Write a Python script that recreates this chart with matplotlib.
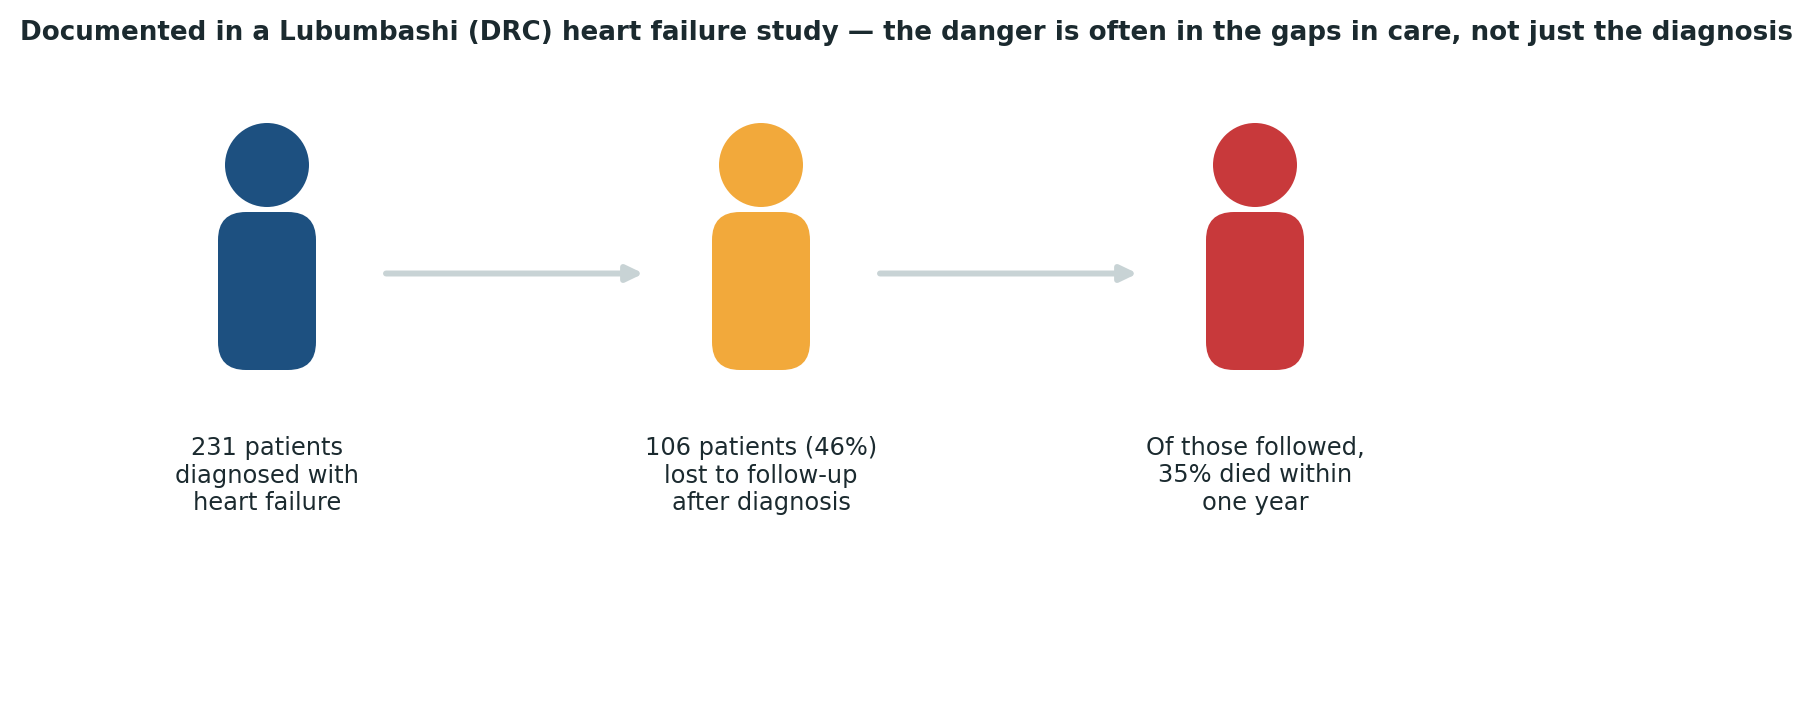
import matplotlib
matplotlib.use("Agg")
import matplotlib.pyplot as plt
from matplotlib.patches import Circle, FancyBboxPatch

TITLE = "Documented in a Lubumbashi (DRC) heart failure study — the danger is often in the gaps in care, not just the diagnosis"
stages = ["231 patients\ndiagnosed with\nheart failure",
          "106 patients (46%)\nlost to follow-up\nafter diagnosis",
          "Of those followed,\n35% died within\none year"]
colors = ["#1D5080", "#F2A93B", "#C8393B"]
INK = "#1B2A2F"
ARROW = "#C8D3D5"

DPI = 130
fig = plt.figure(figsize=(1813 / DPI, 705 / DPI), dpi=DPI)
ax = fig.add_axes([0, 0, 1, 1])
ax.set_xlim(0, 1813)
ax.set_ylim(705, 0)
ax.axis("off")

x0, step = 267, 494
for i, (label, c) in enumerate(zip(stages, colors)):
    cx = x0 + i * step
    ax.add_patch(Circle((cx, 165), 42, fc=c, ec="none"))
    r = 28
    ax.add_patch(FancyBboxPatch((cx - 49 + r, 212 + r), 98 - 2 * r, 158 - 2 * r,
                                boxstyle=f"round,pad={r},rounding_size={r}", fc=c, ec="none"))
    ax.text(cx, 475.5, label, ha="center", va="center", fontsize=13.35, color=INK, linespacing=1.17)
    if i < len(stages) - 1:
        ax.annotate("", xy=(cx + 376.5, 273.5), xytext=(cx + 119, 273.5),
                    arrowprops=dict(arrowstyle="-|>,head_length=0.75,head_width=0.36", lw=3.3, color=ARROW,
                                    shrinkA=0, shrinkB=0, capstyle="round", joinstyle="round"))

ax.text(906, 33, TITLE, ha="center", va="center", fontsize=14.5, fontweight="bold", color=INK)
fig.savefig("out.png", dpi=DPI, facecolor="white")
